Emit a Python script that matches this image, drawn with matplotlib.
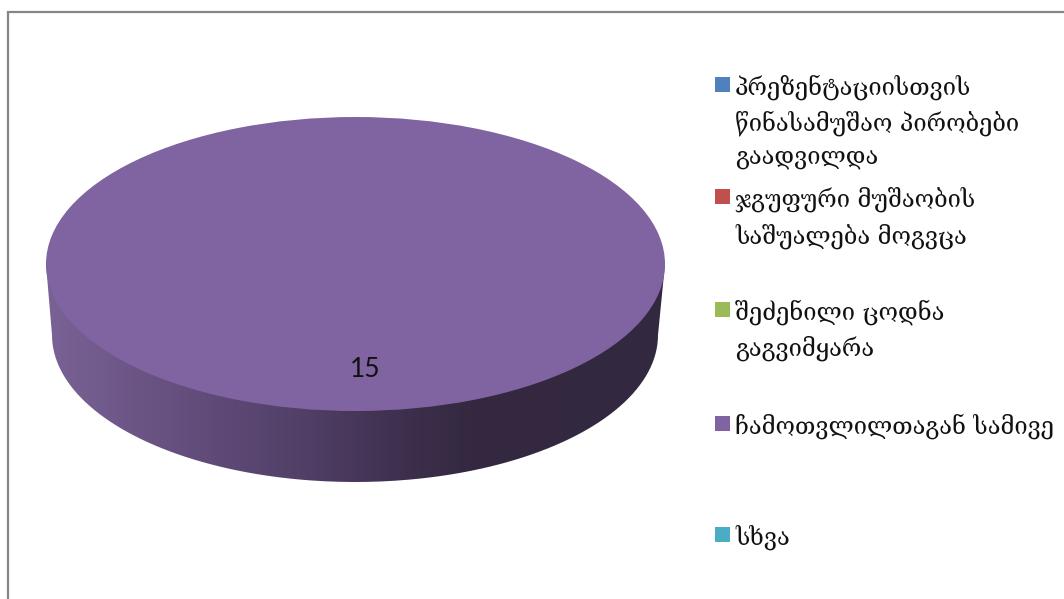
import numpy as np
import matplotlib
matplotlib.use("Agg")
import matplotlib.pyplot as plt
from matplotlib.patches import Rectangle, PathPatch
from matplotlib.path import Path

labels = ["პრეზენტაციისთვის\nწინასამუშაო პირობები\nგაადვილდა",
          "ჯგუფური მუშაობის\nსაშუალება მოგვცა",
          "შეძენილი ცოდნა\nგაგვიმყარა",
          "ჩამოთვლილთაგან სამივე",
          "სხვა"]
values = [0, 0, 0, 15, 0]
colors = ["#4F81BD", "#C0504D", "#9BBB59", "#8064A2", "#4BACC6"]

W, H = 1064, 599
GEORGIAN = ["DejaVu Serif", "DejaVu Sans"]

fig = plt.figure(figsize=(W / 100, H / 100), dpi=100)

# pixel axes for frame, side of the disc and the legend
bg = fig.add_axes([0, 0, 1, 1])
bg.set_xlim(0, W)
bg.set_ylim(H, 0)
bg.axis("off")

# outer frame, only top and left are visible
bg.plot([8, 8, W], [H, 12, 12], color="#868686", lw=1.6, solid_joinstyle="miter")

# side of the disc, lower half of a slightly narrower ellipse
t = np.linspace(np.pi, 0, 200)
xs = 355 + 303 * np.cos(t)
ys = 335 + 147 * np.sin(t)
verts = [(46, 264)] + list(zip(xs, ys)) + [(665, 264), (46, 264)]
side = PathPatch(Path(verts), fc="none", ec="none")
bg.add_patch(side)
grad_x = [46, 200, 300, 400, 470, 665]
grad_c = np.array([[122, 98, 150], [97, 76, 122], [82, 64, 104],
                   [62, 48, 78], [52, 41, 65], [50, 40, 63]]) / 255
xx = np.linspace(46, 665, 310)
grad = np.stack([np.interp(xx, grad_x, grad_c[:, i]) for i in range(3)], axis=-1)[None, :, :]
im = bg.imshow(grad, extent=[46, 665, 482, 264], aspect="auto", interpolation="bilinear")
im.set_clip_path(side)
bg.set_xlim(0, W)
bg.set_ylim(H, 0)

# legend
square_y = [77, 189, 302, 416, 527]
text_y = [74, 187, 299, 413, 525]
for lab, col, sy, ty in zip(labels, colors, square_y, text_y):
    bg.add_patch(Rectangle((715, sy), 15, 15, fc=col, ec="none"))
    bg.text(735, ty, lab, fontsize=17, family=GEORGIAN, color="#111111",
            va="top", ha="left", linespacing=1.55)

# top of the disc
ax = fig.add_axes([46 / W, (H - 411) / H, 619 / W, 294 / H])
ax.pie(values, colors=colors, radius=1, startangle=90, counterclock=False)
ax.set_xlim(-1, 1)
ax.set_ylim(-1, 1)
ax.set_aspect("auto")
ax.patch.set_alpha(0)
ax.text(0.03, -0.72, str(values[3]), fontsize=19, family="Lato", color="#111111",
        ha="center", va="center")

fig.savefig("out.png", dpi=100)
